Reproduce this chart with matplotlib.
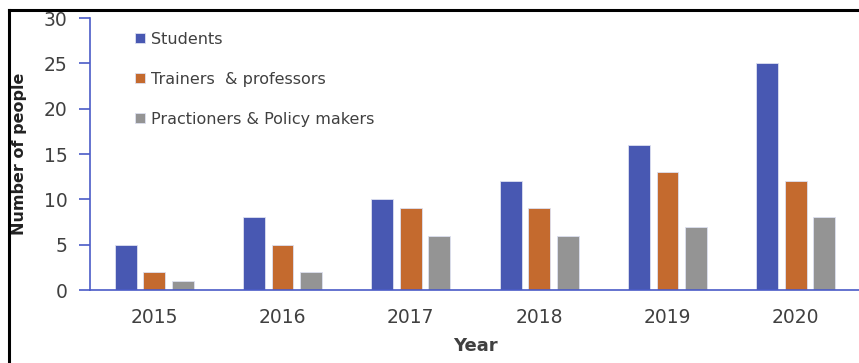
import numpy as np
import matplotlib.pyplot as plt
from matplotlib.lines import Line2D

# data
years = ['2015', '2016', '2017', '2018', '2019', '2020']
students = [5, 8, 10, 12, 16, 25]
trainers = [2, 5, 9, 9, 13, 12]
practitioners = [1, 2, 6, 6, 7, 8]
series_names = ['Students', 'Trainers  & professors', 'Practioners & Policy makers']

colors = ['#4858B2', '#C46A2E', '#949494']
axis_blue = '#4A5BC7'
text_gray = '#404040'

fig = plt.figure(figsize=(8.59, 3.63), dpi=100)
ax = fig.add_axes([90 / 859, 1 - 290 / 363, 770 / 859, 272 / 363])

x = np.arange(len(years))
width = 0.17
step = 0.222
for i, (vals, c, name) in enumerate(zip([students, trainers, practitioners], colors, series_names)):
    ax.bar(x + (i - 1) * step, vals, width, color=c, edgecolor='#dde0f0',
           linewidth=0.6, label=name, zorder=2)

ax.set_xlim(-0.5, 5.5)
ax.set_ylim(0, 30)
ax.set_yticks(range(0, 31, 5))
ax.set_xticks(x)
ax.set_xticklabels(years)

for s in ['top', 'right']:
    ax.spines[s].set_visible(False)
ax.spines['left'].set_color(axis_blue)
ax.spines['bottom'].set_color(axis_blue)
ax.spines['left'].set_linewidth(1.2)
ax.spines['bottom'].set_linewidth(1.2)
ax.tick_params(axis='y', colors=axis_blue, length=8, width=1.2, labelcolor=text_gray,
               labelsize=13.5, pad=8)
ax.tick_params(axis='x', length=0, labelcolor=text_gray, labelsize=13.5, pad=13)

ax.set_xlabel('Year', fontsize=13, fontweight='bold', color=text_gray, labelpad=7)
fig.text(20 / 859, 1 - 154 / 363, 'Number of people', rotation=90, ha='center', va='center',
         fontsize=11.5, fontweight='bold', color='#222222')

ax.legend(loc='upper left', bbox_to_anchor=(135 / 859, 1 - 32 / 363),
          bbox_transform=fig.transFigure, frameon=False, fontsize=11.5,
          handlelength=0.6, handleheight=0.6, handletextpad=0.4,
          labelspacing=1.55, borderpad=0, borderaxespad=0, labelcolor=text_gray)

# outer frame lines
fig.add_artist(Line2D([9 / 859, 1], [1 - 10 / 363, 1 - 10 / 363], color='black', lw=2.2,
                      transform=fig.transFigure))
fig.add_artist(Line2D([9 / 859, 9 / 859], [0, 1 - 10 / 363], color='black', lw=2.2,
                      transform=fig.transFigure))

fig.savefig('out.png', dpi=100)
